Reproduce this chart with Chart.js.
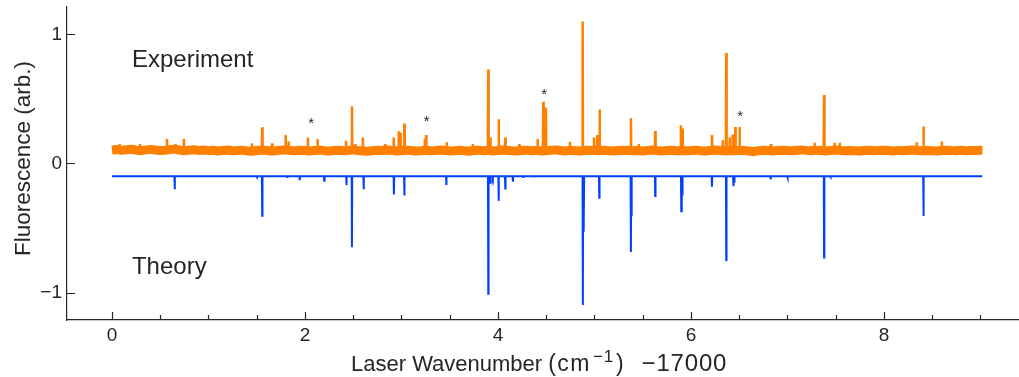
<!DOCTYPE html>
<html><head><meta charset="utf-8">
<script src="https://cdn.jsdelivr.net/npm/chart.js@4.4.1/dist/chart.umd.min.js"></script>
<style>html,body{margin:0;padding:0;background:#fff;overflow:hidden}#wrap{width:1019px;height:377px;position:relative}</style>
</head><body><div id="wrap"><canvas id="c" width="1019" height="377"></canvas></div>
<script>
// ---- tick definitions ----
const xMajorTicks = [0, 2, 4, 6, 8];
const xMinorTicks = [0.5, 1, 1.5, 2.5, 3, 3.5, 4.5, 5, 5.5, 6.5, 7, 7.5, 8.5, 9];
const yTicks = [-1, 0, 1];
const yTickLabels = ['\u22121', '0', '1'];

// ---- experiment: noisy baseline sampled every 0.05 from 0 to 9.0 ----
const bandStart = 0, bandStep = 0.05;
const bandY = [
 0.104,0.108,0.101,0.106,0.110,0.103,0.099,0.105,0.109,0.104,0.100,0.102,0.107,0.111,0.104,0.098,0.103,0.106,0.101,0.104,
 0.099,0.102,0.096,0.101,0.104,0.098,0.100,0.103,0.097,0.095,0.100,0.104,0.101,0.097,0.099,0.103,0.106,0.100,0.098,0.102,
 0.100,0.097,0.101,0.104,0.099,0.096,0.100,0.102,0.098,0.101,0.105,0.100,0.097,0.094,0.099,0.102,0.100,0.104,0.101,0.097,
 0.099,0.103,0.100,0.096,0.098,0.102,0.099,0.101,0.104,0.100,0.097,0.099,0.102,0.098,0.095,0.100,0.103,0.099,0.101,0.097,
 0.100,0.104,0.101,0.098,0.096,0.100,0.103,0.099,0.101,0.097,0.099,0.102,0.105,0.100,0.097,0.101,0.099,0.096,0.100,0.103,
 0.101,0.098,0.102,0.099,0.096,0.100,0.103,0.101,0.098,0.100,0.097,0.101,0.104,0.099,0.097,0.100,0.102,0.098,0.101,0.099,
 0.100,0.103,0.099,0.097,0.101,0.104,0.100,0.098,0.101,0.099,0.102,0.100,0.097,0.091,0.099,0.102,0.100,0.097,0.101,0.103,
 0.100,0.098,0.102,0.105,0.101,0.099,0.103,0.100,0.097,0.101,0.104,0.100,0.098,0.101,0.099,0.096,0.100,0.102,0.099,0.101,
 0.103,0.100,0.097,0.101,0.099,0.102,0.104,0.100,0.098,0.101,0.099,0.097,0.101,0.103,0.100,0.098,0.102,0.099,0.101,0.100,
 0.102
];
const expBase = 0.1;
const expEnd = 9.02;
// experiment peak positions and heights
const expPeakX = [0.08,0.29,0.57,0.66,0.745,1.45,1.557,1.66,1.80,1.83,2.03,2.13,2.425,2.487,2.52,2.60,2.83,2.92,2.97,2.99,3.03,3.24,3.255,3.47,3.74,3.90,3.92,4.007,4.076,4.22,4.41,4.47,4.497,4.746,4.878,4.995,5.03,5.053,5.378,5.46,5.63,5.896,5.913,6.218,6.33,6.366,6.40,6.43,6.46,6.503,6.83,7.28,7.38,7.49,7.54,8.34,8.41,8.60];
const expPeakY = [0.15,0.15,0.19,0.15,0.19,0.155,0.28,0.155,0.22,0.17,0.20,0.19,0.175,0.443,0.15,0.20,0.15,0.20,0.25,0.24,0.31,0.19,0.22,0.165,0.15,0.727,0.20,0.343,0.20,0.15,0.19,0.477,0.433,0.167,1.10,0.20,0.22,0.418,0.35,0.15,0.252,0.296,0.27,0.22,0.18,0.856,0.20,0.224,0.283,0.283,0.15,0.16,0.531,0.16,0.16,0.165,0.286,0.17];

// ---- theory stick spectrum ----
const theoryBase = -0.1;
const theoryEnd = 9.02;
const theoryX = [0.65,1.50,1.557,1.815,1.945,2.20,2.43,2.487,2.608,2.922,3.03,3.465,3.90,3.92,3.947,4.007,4.076,4.155,4.26,4.375,4.88,4.89,5.05,5.378,5.386,5.63,5.90,5.91,6.218,6.366,6.44,6.45,6.826,7.0,7.38,7.445,8.41];
const theoryY = [-0.20,-0.105,-0.406,-0.105,-0.13,-0.135,-0.168,-0.65,-0.20,-0.24,-0.248,-0.168,-1.009,-0.15,-0.11,-0.29,-0.194,-0.142,-0.105,-0.102,-1.097,-0.53,-0.266,-0.687,-0.41,-0.253,-0.37,-0.24,-0.18,-0.748,-0.176,-0.15,-0.124,-0.11,-0.728,-0.105,-0.408];

// ---- annotation marks (asterisks) ----
const starX = [2.065, 3.261, 4.48, 6.511];
const starY = [0.345, 0.356, 0.562, 0.392];

const labelExperiment = {text: 'Experiment', x: 0.207, y: 0.749};
const labelTheory = {text: 'Theory', x: 0.207, y: -0.857};

const ORANGE = '#FF8000';
const BLUE = '#0040FF';
const AXIS = '#262626';
const FONT = '"Liberation Sans", Arial, Helvetica, sans-serif';

function buildSticks(xs, ys, base, end, d) {
  const pts = [{x: 0, y: base}];
  for (let i = 0; i < xs.length; i++) {
    pts.push({x: xs[i] - d, y: base});
    pts.push({x: xs[i], y: ys[i]});
    pts.push({x: xs[i] + d, y: base});
  }
  pts.push({x: end, y: base});
  return pts;
}
const bandData = bandY.map((v, i) => ({x: +(bandStart + i * bandStep).toFixed(3), y: v}));
bandData.push({x: expEnd, y: bandY[bandY.length - 1]});
const expData = buildSticks(expPeakX, expPeakY, expBase, expEnd, 0.004);
const theoryData = buildSticks(theoryX, theoryY, theoryBase, theoryEnd, 0.003);

// draws a text piece and returns its right edge
function drawPiece(ctx, text, x0, size, baseline, spacing) {
  ctx.save();
  ctx.font = size + 'px ' + FONT;
  ctx.letterSpacing = (spacing || 0) + 'px';
  ctx.textAlign = 'left';
  ctx.fillText(text, x0, baseline);
  const w = ctx.measureText(text).width;
  ctx.restore();
  return x0 + w;
}

const decorPlugin = {
  id: 'decor',
  afterDraw(chart) {
    const ctx = chart.ctx;
    const xs = chart.scales.x, ys = chart.scales.y;
    const ca = chart.chartArea;
    ctx.save();
    ctx.strokeStyle = AXIS;
    ctx.lineWidth = 1.2;
    ctx.beginPath();
    xMajorTicks.forEach(v => { const p = Math.round(xs.getPixelForValue(v)) + 0.5; ctx.moveTo(p, ca.bottom); ctx.lineTo(p, ca.bottom - 8); });
    xMinorTicks.forEach(v => { const p = Math.round(xs.getPixelForValue(v)) + 0.5; ctx.moveTo(p, ca.bottom); ctx.lineTo(p, ca.bottom - 5); });
    yTicks.forEach(v => { const p = Math.round(ys.getPixelForValue(v)) + 0.5; ctx.moveTo(ca.left, p); ctx.lineTo(ca.left + 8, p); });
    ctx.stroke();

    ctx.fillStyle = AXIS;
    // asterisks
    ctx.font = '15px ' + FONT;
    ctx.textAlign = 'center';
    ctx.textBaseline = 'alphabetic';
    starX.forEach((v, i) => { ctx.fillText('*', xs.getPixelForValue(v), ys.getPixelForValue(starY[i]) + 8.6); });
    // series labels
    ctx.font = '24px ' + FONT;
    ctx.textAlign = 'left';
    [labelExperiment, labelTheory].forEach(l => ctx.fillText(l.text, xs.getPixelForValue(l.x), ys.getPixelForValue(l.y)));

    // x axis title with superscript
    let tx = drawPiece(ctx, 'Laser Wavenumber', 351, 22, 371, 0);
    tx = drawPiece(ctx, '(cm', tx + 6, 23, 371, 1.5);
    tx = drawPiece(ctx, '\u22121', tx + 2, 17, 361.7, 0.8);
    tx = drawPiece(ctx, ')', tx + 2, 23, 371, 0);
    drawPiece(ctx, '\u221217000', tx + 18, 24, 371, 0.8);

    // y axis title
    ctx.translate(30, 158.5);
    ctx.rotate(-Math.PI / 2);
    ctx.textAlign = 'center';
    ctx.font = '22.5px ' + FONT;
    ctx.fillText('Fluorescence (arb.)', 0, 0);
    ctx.restore();
  }
};

new Chart(document.getElementById('c'), {
  type: 'line',
  data: {
    datasets: [
      {data: expData, borderColor: ORANGE, borderWidth: 2.5, pointRadius: 0, tension: 0, order: 3},
      {data: bandData, borderColor: ORANGE, borderWidth: 9, pointRadius: 0, tension: 0, borderJoinStyle: 'bevel', order: 2},
      {data: theoryData, borderColor: BLUE, borderWidth: 2, pointRadius: 0, tension: 0, order: 1}
    ]
  },
  options: {
    responsive: false,
    animation: false,
    devicePixelRatio: 1,
    layout: {padding: {top: 7, right: 0, left: 0, bottom: 0}},
    plugins: {legend: {display: false}, tooltip: {enabled: false}},
    scales: {
      x: {
        type: 'linear', min: -0.466, max: 9.4,
        grid: {display: false, drawTicks: false},
        border: {display: true, color: AXIS, width: 1.2},
        ticks: {font: {family: FONT, size: 19}, color: AXIS, padding: 4, maxRotation: 0, autoSkip: false, callback: v => String(v)},
        afterBuildTicks: s => { s.ticks = xMajorTicks.map(v => ({value: v})); },
        afterFit: s => { s.height = 57; s.paddingLeft = 0; s.paddingRight = 0; }
      },
      y: {
        type: 'linear', min: -1.213, max: 1.212,
        grid: {display: false, drawTicks: false},
        border: {display: true, color: AXIS, width: 1.2},
        ticks: {font: {family: FONT, size: 19}, color: AXIS, padding: 5, callback: v => yTickLabels[yTicks.indexOf(v)]},
        afterBuildTicks: s => { s.ticks = yTicks.map(v => ({value: v})); },
        afterFit: s => { s.width = 67; s.paddingTop = 0; s.paddingBottom = 0; }
      }
    }
  },
  plugins: [decorPlugin]
});
</script></body></html>
